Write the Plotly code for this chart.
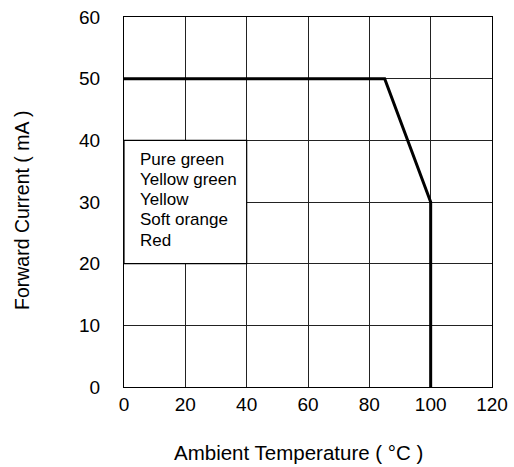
import plotly.graph_objects as go

temps = [0, 85, 100, 100]
currents = [50, 50, 30, 0]
x_ticks = [0, 20, 40, 60, 80, 100, 120]
y_ticks = [0, 10, 20, 30, 40, 50, 60]
colours = ["Pure green", "Yellow green", "Yellow", "Soft orange", "Red"]
box_x = [0, 40]
box_y = [20, 40]
x_title = "Ambient Temperature ( °C )"
y_title = "Forward Current ( mA )"

font = "Liberation Sans, Arial, sans-serif"
W, H = 514, 467
L, R, T, B = 124, 22, 17, 80
pw = W - L - R
ph = H - T - B

fig = go.Figure()
fig.add_trace(go.Scatter(x=temps, y=currents, mode="lines",
                         line=dict(color="black", width=3), showlegend=False))

fig.add_shape(type="rect", xref="x", yref="y", x0=box_x[0], x1=box_x[1],
              y0=box_y[0], y1=box_y[1], fillcolor="white",
              line=dict(color="black", width=1.2), layer="above")
for i, name in enumerate(colours):
    fig.add_annotation(x=box_x[0], y=box_y[1], xref="x", yref="y",
                       text=name, showarrow=False,
                       xanchor="left", yanchor="middle", align="left",
                       xshift=14, yshift=-(19 + 20.2 * i),
                       font=dict(family=font, size=17, color="black"))

fig.add_annotation(x=174.5 / pw, y=-65 / ph, xref="paper", yref="paper",
                   text=x_title, showarrow=False, xanchor="center", yanchor="middle",
                   font=dict(family=font, size=20.5, color="black"))
fig.add_annotation(x=-102 / pw, y=1 - 194 / ph, xref="paper", yref="paper",
                   text=y_title, showarrow=False, xanchor="center", yanchor="middle",
                   textangle=-90,
                   font=dict(family=font, size=19.5, color="black"))

axis_common = dict(showgrid=True, gridcolor="#222222", gridwidth=1,
                   showline=True, linecolor="black", linewidth=1.2, mirror=True,
                   zeroline=False, ticks="", automargin=False,
                   ticklabeloverflow="allow",
                   tickfont=dict(family=font, size=19, color="black"))

fig.update_xaxes(range=[0, 120], tickvals=x_ticks, ticklabelstandoff=0, **axis_common)
fig.update_yaxes(range=[0, 60], tickvals=y_ticks, ticklabelstandoff=19, **axis_common)

fig.update_layout(width=W, height=H,
                  margin=dict(l=L, r=R, t=T, b=B),
                  plot_bgcolor="white", paper_bgcolor="white")

fig.write_html("out.html", config={"displayModeBar": False},
               post_script="document.body.style.margin='0';")
